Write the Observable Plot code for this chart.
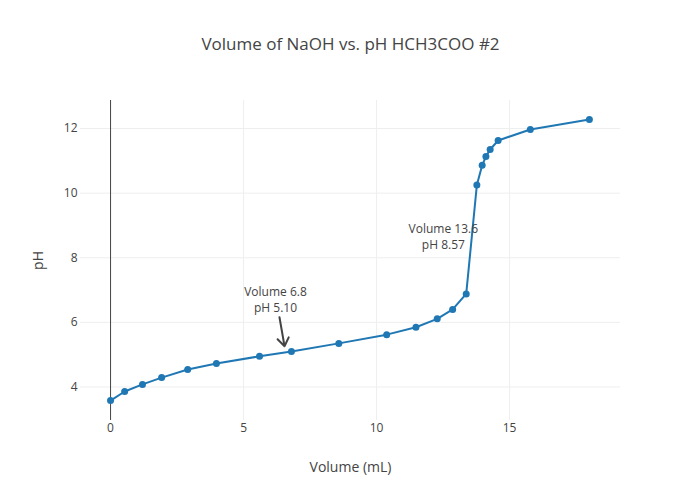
<!DOCTYPE html>
<html>
<head>
<meta charset="utf-8">
<script src="https://cdn.jsdelivr.net/npm/d3@7"></script>
<script src="https://cdn.jsdelivr.net/npm/@observablehq/plot@0.6"></script>
<style>
  html, body { margin: 0; padding: 0; background: #fff; }
  #chart { width: 700px; height: 500px; }
</style>
</head>
<body>
<div id="chart"></div>
<script>
const volume = [0, 0.53, 1.2, 1.92, 2.9, 3.98, 5.6, 6.8, 8.58, 10.38, 11.48, 12.28, 12.86, 13.37, 13.77, 13.97, 14.11, 14.27, 14.57, 15.78, 18.0];
const pH     = [3.58, 3.86, 4.08, 4.29, 4.54, 4.73, 4.95, 5.10, 5.35, 5.62, 5.85, 6.11, 6.40, 6.88, 10.25, 10.86, 11.13, 11.35, 11.63, 11.97, 12.28];

const xTicks = [0, 5, 10, 15];
const yTicks = [4, 6, 8, 10, 12];

const titleText = "Volume of NaOH vs. pH HCH3COO #2";
const xTitle = "Volume (mL)";
const yTitle = "pH";

const annText = ["Volume 6.8\npH 5.10", "Volume 13.6\npH 8.57"];
const annX = [6.2, 12.51];
const annY = [6.74, 8.67];

const arrowX1 = [6.35];
const arrowY1 = [6.16];
const arrowX2 = [6.54];
const arrowY2 = [5.26];

const data = volume.map((v, i) => ({v, p: pH[i]}));
const anns = annText.map((t, i) => ({t, x: annX[i], y: annY[i]}));
const arrows = arrowX1.map((x1, i) => ({x1, y1: arrowY1[i], x2: arrowX2[i], y2: arrowY2[i]}));

const chart = Plot.plot({
  width: 700,
  height: 500,
  marginTop: 100,
  marginBottom: 80,
  marginLeft: 80,
  marginRight: 80,
  style: {fontFamily: "'Open Sans', sans-serif", fontSize: "12px", color: "#444", background: "#fff"},
  x: {domain: [-1.13, 19.17]},
  y: {domain: [2.963, 12.867]},
  marks: [
    Plot.ruleY(yTicks, {stroke: "#eee", strokeWidth: 1}),
    Plot.ruleX(xTicks.filter(d => d !== 0), {stroke: "#eee", strokeWidth: 1}),
    Plot.ruleX([0], {stroke: "#444", strokeWidth: 1}),
    Plot.axisX({ticks: xTicks, tickSize: 0, tickPadding: 3, label: null, fontSize: 12}),
    Plot.axisY({ticks: yTicks, tickSize: 0, tickPadding: 3, label: null, fontSize: 12}),
    Plot.line(data, {x: "v", y: "p", stroke: "#1f77b4", strokeWidth: 2}),
    Plot.dot(data, {x: "v", y: "p", fill: "#1f77b4", r: 3.5}),
    Plot.arrow(arrows, {x1: "x1", y1: "y1", x2: "x2", y2: "y2", stroke: "#444", strokeWidth: 2, headLength: 8, headAngle: 70}),
    Plot.text(anns, {x: "x", y: "y", text: "t", fill: "#444", fontSize: 12, lineHeight: 1.33}),
    Plot.text([titleText], {frameAnchor: "top", lineAnchor: "middle", textAnchor: "middle", dy: -56, fontSize: 17, fill: "#444"}),
    Plot.text([xTitle], {frameAnchor: "bottom", lineAnchor: "middle", textAnchor: "middle", dy: 47, fontSize: 14, fill: "#444"}),
    Plot.text([yTitle], {frameAnchor: "left", lineAnchor: "middle", textAnchor: "middle", dx: -42, rotate: -90, fontSize: 14, fill: "#444"})
  ]
});
document.getElementById("chart").appendChild(chart);
</script>
</body>
</html>
